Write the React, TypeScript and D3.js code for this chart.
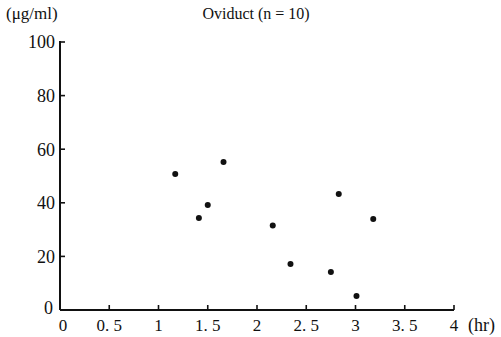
import React, { useEffect, useRef } from 'react';
import * as d3 from 'd3';

// Time after administration (hr)
const hours = [1.17, 1.66, 1.5, 1.41, 2.16, 2.34, 2.83, 3.18, 2.75, 3.01];
// Concentration in oviduct (µg/ml)
const conc = [50.7, 55.2, 39.2, 34.3, 31.5, 17.2, 43.3, 34.0, 14.2, 5.2];

const xTicks = [0, 0.5, 1, 1.5, 2, 2.5, 3, 3.5, 4];
const yTicks = [0, 20, 40, 60, 80, 100];

const W = 501;
const H = 337;

const App: React.FC = () => {
  const svgRef = useRef<SVGSVGElement>(null);

  useEffect(() => {
    if (!svgRef.current) return;
    const svg = d3.select(svgRef.current);
    svg.selectAll('*').remove();

    const x = d3.scaleLinear().domain([0, 4]).range([60, 454]);
    const y = d3.scaleLinear().domain([0, 100]).range([310, 42]);

    // Axes lines
    svg
      .append('line')
      .attr('x1', x(0))
      .attr('x2', x(4))
      .attr('y1', y(0))
      .attr('y2', y(0))
      .attr('stroke', '#111')
      .attr('stroke-width', 2);
    svg
      .append('line')
      .attr('x1', x(0))
      .attr('x2', x(0))
      .attr('y1', y(0))
      .attr('y2', y(100) - 1)
      .attr('stroke', '#111')
      .attr('stroke-width', 2);

    // X ticks (inward)
    svg
      .selectAll('.xtick')
      .data(xTicks.filter(d => d > 0))
      .enter()
      .append('line')
      .attr('x1', d => x(d))
      .attr('x2', d => x(d))
      .attr('y1', y(0))
      .attr('y2', y(0) - 5)
      .attr('stroke', '#111')
      .attr('stroke-width', 1.6);

    svg
      .selectAll('.xlabel')
      .data(xTicks)
      .enter()
      .append('text')
      .attr('x', d => (d === 0 ? x(d) + 3 : x(d)))
      .attr('y', 331)
      .attr('text-anchor', 'middle')
      .style('font-size', '17px')
      .attr('fill', '#111')
      .text(d => String(d).replace('.', '. '));

    // Y ticks (inward)
    svg
      .selectAll('.ytick')
      .data(yTicks.filter(d => d > 0))
      .enter()
      .append('line')
      .attr('x1', x(0))
      .attr('x2', x(0) + 5)
      .attr('y1', d => y(d))
      .attr('y2', d => y(d))
      .attr('stroke', '#111')
      .attr('stroke-width', 1.6);

    svg
      .selectAll('.ylabel')
      .data(yTicks)
      .enter()
      .append('text')
      .attr('x', d => (d === 0 ? 53 : 55))
      .attr('y', d => y(d))
      .attr('dy', d => (d === 0 ? '0.2em' : '0.35em'))
      .attr('text-anchor', 'end')
      .style('font-size', '18px')
      .attr('fill', '#111')
      .text(d => d);

    // Points
    svg
      .selectAll('.dot')
      .data(hours.map((h, i) => ({ h, c: conc[i] })))
      .enter()
      .append('circle')
      .attr('cx', d => x(d.h))
      .attr('cy', d => y(d.c))
      .attr('r', 3)
      .attr('fill', '#111');

    // Title and units
    svg
      .append('text')
      .attr('x', 256)
      .attr('y', 19)
      .attr('text-anchor', 'middle')
      .style('font-size', '16px')
      .attr('fill', '#111')
      .text('Oviduct (n = 10)');

    svg
      .append('text')
      .attr('x', 6)
      .attr('y', 19)
      .style('font-size', '17px')
      .attr('fill', '#111')
      .text('(μg/ml)');

    svg
      .append('text')
      .attr('x', 468)
      .attr('y', 331)
      .style('font-size', '18px')
      .attr('fill', '#111')
      .text('(hr)');
  }, []);

  return (
    <svg
      ref={svgRef}
      width={W}
      height={H}
      style={{
        position: 'absolute',
        left: 0,
        top: 0,
        background: '#fff',
        fontFamily: "'Liberation Serif', 'DejaVu Serif', serif",
      }}
    />
  );
};

export default App;
